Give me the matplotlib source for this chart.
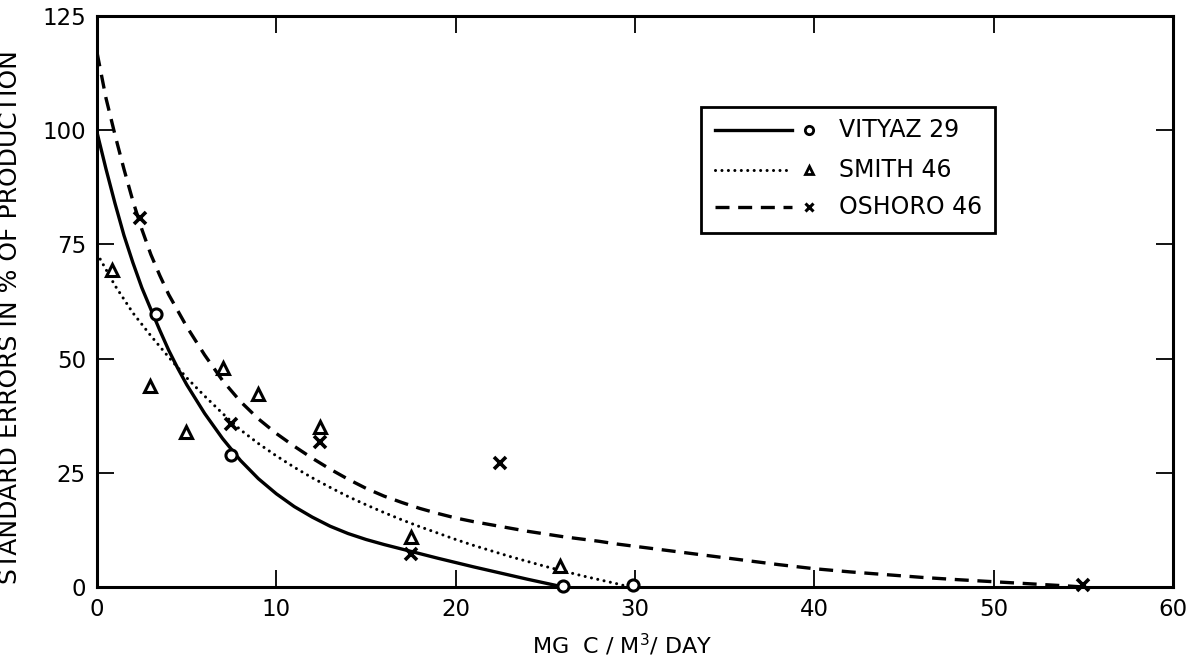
import matplotlib
matplotlib.use("Agg")
import matplotlib.pyplot as plt
from matplotlib.patches import Rectangle

# observed points
vityaz_x = [3.3, 7.45, 26.0, 29.9]
vityaz_y = [59.8, 28.8, 0.2, 0.4]
smith_x = [0.82, 2.96, 4.94, 7.0, 8.98, 12.45, 17.5, 25.8]
smith_y = [69.5, 44.0, 34.0, 48.0, 42.2, 35.0, 10.9, 4.6]
oshoro_x = [2.4, 7.45, 12.45, 17.5, 22.5, 55.0]
oshoro_y = [80.8, 35.6, 31.8, 7.3, 27.2, 0.4]

# fitted curves
vityaz_fit_x = [0, 0.5, 1, 1.5, 2, 2.5, 3, 3.5, 4, 4.5, 5, 6, 7, 8, 9, 10, 11, 12, 13, 14,
                15, 16, 17, 18, 19, 20, 21, 22, 23, 24, 25, 26]
vityaz_fit_y = [99.5, 91.5, 84.0, 77.0, 71.0, 65.5, 60.8, 56.2, 51.8, 47.9, 44.3, 38.0, 32.5,
                27.7, 23.7, 20.4, 17.6, 15.3, 13.3, 11.7, 10.4, 9.3, 8.3, 7.3, 6.3, 5.35, 4.4,
                3.5, 2.6, 1.7, 0.85, 0.0]
smith_fit_x = [0, 1, 2, 3, 4, 5, 6, 7, 8, 9, 10, 11, 12, 13, 14, 15, 16, 17, 18, 19, 20,
               21, 22, 23, 24, 25, 26, 27, 28, 29, 29.7]
smith_fit_y = [73.0, 66.0, 60.0, 55.0, 50.3, 45.8, 41.8, 38.0, 34.4, 31.4, 28.7, 26.2, 23.9,
               21.8, 19.8, 18.0, 16.3, 14.7, 13.2, 11.8, 10.4, 9.1, 7.9, 6.7, 5.6, 4.5, 3.5,
               2.5, 1.6, 0.7, 0.0]
oshoro_fit_x = [0, 0.5, 1, 1.5, 2, 2.5, 3, 3.5, 4, 5, 6, 7, 8, 9, 10, 11, 12, 13, 14, 15,
                16, 17, 18, 19, 20, 21, 22, 23, 24, 25, 26, 27, 28, 29, 30, 32, 34, 36, 38,
                40, 42, 44, 46, 48, 50, 52, 54, 55]
oshoro_fit_y = [117.0, 107.0, 99.0, 91.5, 84.5, 78.3, 72.8, 68.2, 64.0, 57.0, 50.8, 45.2,
                40.6, 36.8, 33.6, 30.8, 28.2, 25.8, 23.6, 21.6, 19.9, 18.5, 17.2, 16.1, 15.1,
                14.3, 13.6, 12.9, 12.2, 11.6, 11.0, 10.5, 10.0, 9.4, 8.9, 7.9, 6.9, 5.9, 4.9,
                4.0, 3.3, 2.7, 2.1, 1.6, 1.15, 0.7, 0.25, 0.0]

legend_labels = ["VITYAZ 29", "SMITH 46", "OSHORO 46"]

fig = plt.figure(figsize=(11.98, 6.59), dpi=100)
ax = fig.add_axes([0.081, 0.1093, 0.898, 0.8664])

solid = dict(color="black", lw=2.4, ls="-", solid_joinstyle="round")
dotted = dict(color="black", lw=2.2, ls=(0, (0.01, 2.1)), dash_capstyle="round")
dashed = dict(color="black", lw=2.4, ls=(0, (4.2, 2.6)))

ax.plot(vityaz_fit_x, vityaz_fit_y, **solid)
ax.plot(smith_fit_x, smith_fit_y, **dotted)
ax.plot(oshoro_fit_x, oshoro_fit_y, **dashed)

ax.plot(vityaz_x, vityaz_y, ls="none", marker="o", ms=8, mfc="white", mec="black", mew=2.2, clip_on=False, zorder=5)
ax.plot(smith_x, smith_y, ls="none", marker="^", ms=8, mfc="white", mec="black", mew=2.2, clip_on=False, zorder=5)
ax.plot(oshoro_x, oshoro_y, ls="none", marker="x", ms=8, mec="black", mew=2.6, clip_on=False, zorder=5)

ax.set_xlim(0, 60)
ax.set_ylim(0, 125)
ax.set_xticks([0, 10, 20, 30, 40, 50, 60])
ax.set_yticks([0, 25, 50, 75, 100, 125])
ax.tick_params(direction="in", length=12, width=1.3, labelsize=16.5, top=True, right=True, pad=8)
for s in ax.spines.values():
    s.set_linewidth(2.2)

ax.set_xlabel(r"MG  C / M$^{3}$/ DAY", fontsize=16)
ax.xaxis.set_label_coords(0.488, -0.078)
ax.set_ylabel("STANDARD ERRORS IN % OF PRODUCTION", fontsize=18)
ax.yaxis.set_label_coords(-0.070, 0.473)

# hand-drawn style legend box
box = Rectangle((0.561, 0.620), 0.274, 0.221, transform=ax.transAxes, fill=False, lw=2.0, ec="black", zorder=6)
ax.add_patch(box)
rows_y = [0.800, 0.730, 0.666]
styles = [solid, dotted, dashed]
marks = [dict(marker="o", ms=6, mfc="white", mec="black", mew=2.0),
         dict(marker="^", ms=6, mfc="white", mec="black", mew=2.0),
         dict(marker="x", ms=6, mec="black", mew=2.2)]
for yy, st, mk, lab in zip(rows_y, styles, marks, legend_labels):
    ax.plot([0.574, 0.646], [yy, yy], transform=ax.transAxes, clip_on=False, **st)
    ax.plot([0.662], [yy], transform=ax.transAxes, ls="none", clip_on=False, **mk)
    ax.text(0.690, yy, lab, transform=ax.transAxes, fontsize=17, va="center", ha="left")

fig.savefig("out.png", dpi=100)
